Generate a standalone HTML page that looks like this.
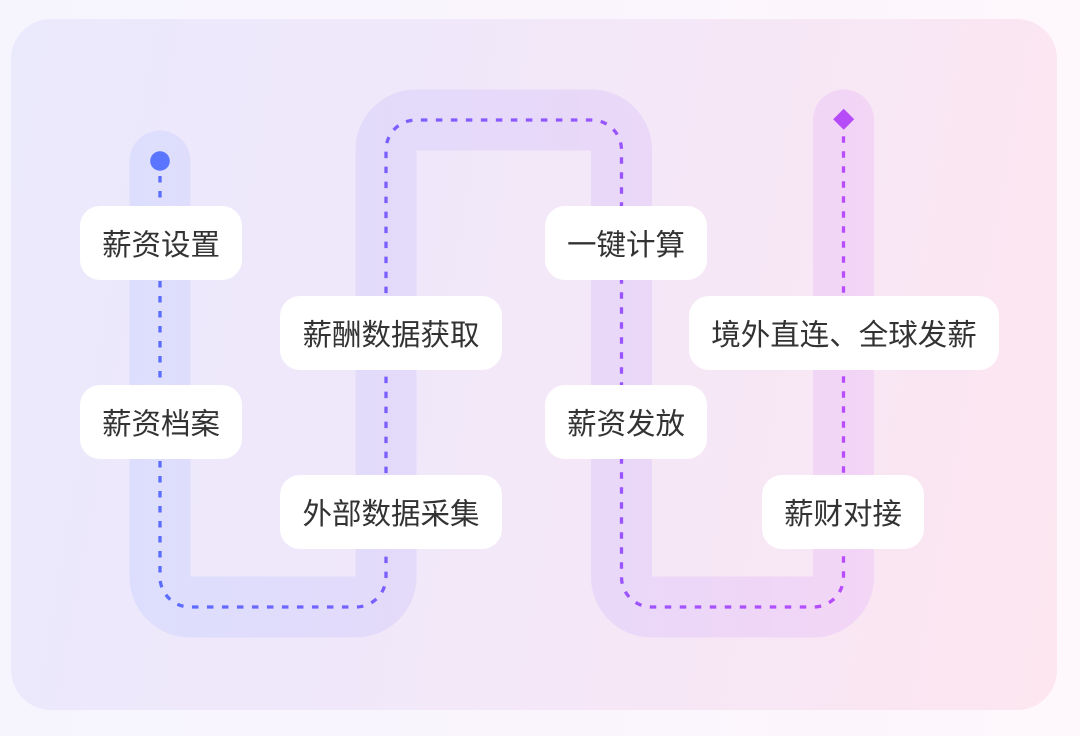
<!DOCTYPE html>
<html>
<head>
<meta charset="utf-8">
<style>
  html,body{margin:0;padding:0;}
  body{width:1080px;height:736px;overflow:hidden;position:relative;
    background:linear-gradient(to right,#f6f5fe,#faf5fd 50%,#fef7fc);
    font-family:"Liberation Sans","Noto Sans CJK SC",sans-serif;}
  .card{position:absolute;left:11px;top:19px;width:1046px;height:691px;border-radius:40px;
    background:linear-gradient(100deg,#ebe9fc 0%,#efe8fa 35%,#f6e7f6 65%,#fde6f0 100%);}
  svg{position:absolute;left:0;top:0;}
  .lbl{position:absolute;background:#fff;border-radius:20px;height:74px;box-sizing:border-box;
    padding-top:6px;
    display:flex;align-items:center;justify-content:center;
    font-size:29.5px;color:#333;white-space:nowrap;line-height:68px;}
</style>
</head>
<body>
<div class="card"></div>
<svg width="1080" height="736" viewBox="0 0 1080 736">
  <defs>
    <linearGradient id="band" gradientUnits="userSpaceOnUse" x1="130" y1="0" x2="874" y2="0">
      <stop offset="0" stop-color="#dddefd"/>
      <stop offset="0.5" stop-color="#e6d9f9"/>
      <stop offset="1" stop-color="#f3d5f6"/>
    </linearGradient>
    <linearGradient id="dash" gradientUnits="userSpaceOnUse" x1="160" y1="0" x2="844" y2="0">
      <stop offset="0" stop-color="#5a6dff"/>
      <stop offset="0.5" stop-color="#8a58ff"/>
      <stop offset="1" stop-color="#b94cfc"/>
    </linearGradient>
  </defs>
  <path d="M160 161 V577 A30 30 0 0 0 190 607 H356 A30 30 0 0 0 386 577 V150 A30 30 0 0 1 416 120 H591.5 A30 30 0 0 1 621.5 150 V577 A30 30 0 0 0 651.5 607 H813.5 A30 30 0 0 0 843.5 577 V120"
        fill="none" stroke="url(#band)" stroke-width="61" stroke-linecap="round" stroke-linejoin="round"/>
  <path d="M160 161 V577 A30 30 0 0 0 190 607 H356 A30 30 0 0 0 386 577 V150 A30 30 0 0 1 416 120 H591.5 A30 30 0 0 1 621.5 150 V577 A30 30 0 0 0 651.5 607 H813.5 A30 30 0 0 0 843.5 577 V120"
        fill="none" stroke="url(#dash)" stroke-width="3.3" stroke-dasharray="6.5 8.5"/>
  <circle cx="160" cy="161" r="9.8" fill="#5a76ff"/>
  <polygon points="843.7,108.8 854.2,119.3 843.7,129.8 833.2,119.3" fill="#b54cf7"/>
</svg>

<div class="lbl" style="left:80px;top:206px;width:162px;">薪资设置</div>
<div class="lbl" style="left:280px;top:296px;width:222px;">薪酬数据获取</div>
<div class="lbl" style="left:80px;top:385px;width:162px;">薪资档案</div>
<div class="lbl" style="left:280px;top:475px;width:222px;">外部数据采集</div>
<div class="lbl" style="left:545px;top:206px;width:162px;">一键计算</div>
<div class="lbl" style="left:689px;top:296px;width:310px;">境外直连、全球发薪</div>
<div class="lbl" style="left:545px;top:385px;width:162px;">薪资发放</div>
<div class="lbl" style="left:762px;top:475px;width:162px;">薪财对接</div>
</body>
</html>
